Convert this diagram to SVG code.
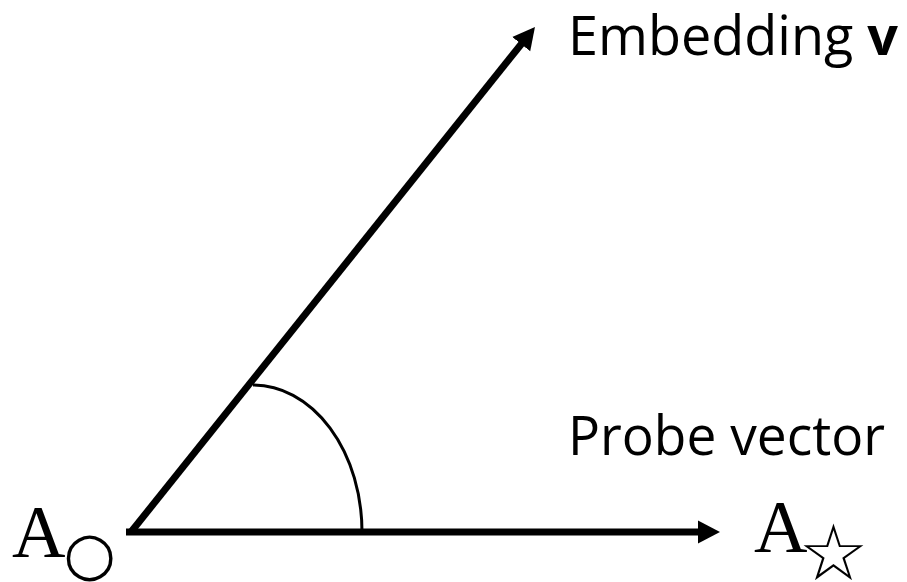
<svg xmlns="http://www.w3.org/2000/svg" width="907" height="582" viewBox="0 0 907 582">
<style>
.vec{stroke:#000;stroke-width:7;fill:none;marker-end:url(#ah)}
.arc{stroke:#000;stroke-width:3;fill:none}
.lbl{font-family:"Open Sans","Liberation Sans",sans-serif;font-size:54px;fill:#000}
.pt{font-family:"Liberation Serif","DejaVu Serif",serif;font-size:74px;fill:#000}
.sym{font-family:"DejaVu Sans",sans-serif;fill:#000}
</style>
<defs>
<marker id="ah" markerUnits="userSpaceOnUse" markerWidth="24" markerHeight="24" refX="7" refY="11.5" orient="auto" viewBox="0 0 24 23">
<path d="M0,0 L22,11.5 L0,23 z" fill="#000"/>
</marker>
</defs>
<g id="connectors">
<line class="vec" x1="131" y1="532" x2="525.6" y2="38.7"/>
<line class="vec" x1="126" y1="532" x2="705" y2="532"/>
<path class="arc" d="M253,385 A109,147 0 0 1 362,532"/>
</g>
<g id="embedding">
<text class="lbl" x="568" y="55" textLength="330" lengthAdjust="spacingAndGlyphs">Embedding <tspan font-weight="bold">v</tspan></text>
</g>
<g id="probe">
<text class="lbl" x="568" y="455" textLength="317" lengthAdjust="spacingAndGlyphs">Probe vector</text>
</g>
<g id="A_circle">
<text class="pt" x="12" y="557">A<tspan class="sym" font-size="60" dx="-2" y="574">○</tspan></text>
</g>
<g id="A_star">
<text class="pt" x="754" y="552">A<tspan class="sym" font-size="78" dx="-9" y="580">☆</tspan></text>
</g>
</svg>
